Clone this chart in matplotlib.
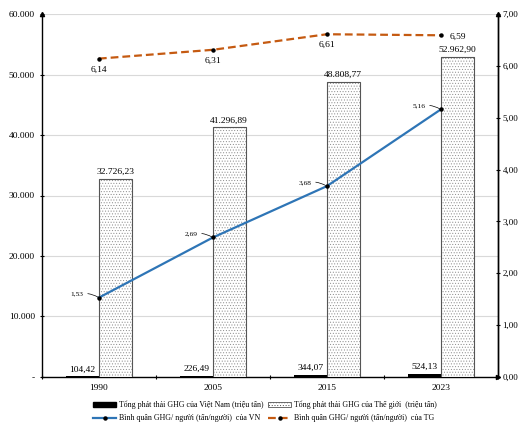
import matplotlib
matplotlib.use("Agg")
import matplotlib.pyplot as plt
import numpy as np
from matplotlib.patches import Patch
from matplotlib.lines import Line2D

plt.rcParams["font.family"] = ["Liberation Serif", "DejaVu Serif"]
plt.rcParams["hatch.linewidth"] = 0.4
plt.rcParams["hatch.color"] = "#8c8c8c"

years = ["1990", "2005", "2015", "2023"]
vn_total = [104.42, 226.49, 344.07, 524.13]
world_total = [32726.23, 41296.89, 48808.77, 52962.90]
vn_per_capita = [1.53, 2.69, 3.68, 5.16]
world_per_capita = [6.14, 6.31, 6.61, 6.59]


def fmt_vn(v, dec=2):
    s = f"{v:,.{dec}f}"
    return s.replace(",", "X").replace(".", ",").replace("X", ".")


fig = plt.figure(figsize=(5.24, 4.25), dpi=100)
ax = fig.add_axes([0.080, 0.113, 0.870, 0.854])
ax2 = ax.twinx()

x = np.arange(len(years))
w = 0.287

ax.bar(x - w / 2, vn_total, w, color="black", zorder=3)
ax.bar(x + w / 2, world_total, w, facecolor="white", edgecolor="#8c8c8c",
       hatch="......", linewidth=0.6, zorder=3)
ax.bar(x + w / 2, world_total, w, facecolor="none", edgecolor="#555555",
       linewidth=0.8, zorder=4)

for i in range(len(years)):
    ax.annotate(fmt_vn(vn_total[i]), (x[i] - w / 2, vn_total[i]), xytext=(0, 2),
                textcoords="offset points", ha="center", va="bottom", fontsize=6.8)
    ax.annotate(fmt_vn(world_total[i]), (x[i] + w / 2, world_total[i]), xytext=(0, 2),
                textcoords="offset points", ha="center", va="bottom", fontsize=6.8)

ax.set_xlim(-0.5, len(years) - 0.5)
ax.set_ylim(0, 60000)
ax.set_yticks(np.arange(0, 60001, 10000))
ax.set_yticklabels(["-"] + [fmt_vn(v, 0) for v in range(10000, 60001, 10000)])
ax.yaxis.grid(True, color="#d9d9d9", linewidth=0.8, zorder=0)
ax.set_axisbelow(True)
ax.set_xticks(x)
ax.set_xticklabels(years)
ax.set_xticks(np.arange(-0.5, len(years), 1), minor=True)
ax.tick_params(axis="x", which="major", length=0, labelsize=6.8, pad=5)
ax.tick_params(axis="x", which="minor", length=3, direction="inout", width=0.8)
ax.tick_params(axis="y", length=3, direction="inout", labelsize=6.8, width=0.8)

# lines on secondary axis
ax2.plot(x, vn_per_capita, color="#2e75b6", linewidth=1.6, marker="o",
         markersize=2.2, markerfacecolor="black", markeredgecolor="black", zorder=5)
ax2.plot(x, world_per_capita, color="#c55a11", linewidth=1.6, linestyle=(0, (3.5, 1.8)),
         marker="o", markersize=2.2, markerfacecolor="black", markeredgecolor="black", zorder=5)
ax2.set_ylim(0, 7)
ax2.set_yticks(np.arange(0, 7.01, 1))
ax2.set_yticklabels([f"{v:.2f}".replace(".", ",") for v in range(8)])
ax2.tick_params(axis="y", length=3, direction="inout", labelsize=6.5, width=0.8, pad=2)

for i in range(len(years)):
    ax2.annotate(fmt_vn(vn_per_capita[i]), (x[i], vn_per_capita[i]), xytext=(-11, 2.5),
                 textcoords="offset points", ha="right", va="center", fontsize=5.3,
                 arrowprops=dict(arrowstyle="-", color="black", linewidth=0.5,
                                 shrinkA=1, shrinkB=1, connectionstyle="arc3,rad=-0.2"))
for i in range(3):
    ax2.annotate(fmt_vn(world_per_capita[i]), (x[i], world_per_capita[i]), xytext=(0, -5),
                 textcoords="offset points", ha="center", va="top", fontsize=6.8)
ax2.annotate(fmt_vn(world_per_capita[3]), (x[3], world_per_capita[3]), xytext=(6, -1),
             textcoords="offset points", ha="left", va="center", fontsize=6.8)

for a in (ax, ax2):
    a.spines["top"].set_visible(False)
    for s in ("left", "right", "bottom"):
        a.spines[s].set_linewidth(1.0)
ax2.spines["left"].set_visible(False)
ax2.spines["bottom"].set_visible(False)

# axis arrows
ax.plot(0, 1, marker="^", color="black", markersize=3, transform=ax.transAxes, clip_on=False, zorder=10)
ax.plot(1, 1, marker="^", color="black", markersize=3, transform=ax.transAxes, clip_on=False, zorder=10)
ax.plot(1, 0, marker=">", color="black", markersize=3, transform=ax.transAxes, clip_on=False, zorder=10)

handles = [
    Patch(facecolor="black", edgecolor="black"),
    Line2D([0], [0], color="#2e75b6", linewidth=1.6, marker="o", markersize=2.2,
           markerfacecolor="black", markeredgecolor="black"),
    Patch(facecolor="white", edgecolor="#555555", hatch="......", linewidth=0.6),
    Line2D([0], [0], color="#c55a11", linewidth=1.6, linestyle=(0, (3.5, 1.8)), marker="o",
           markersize=2.2, markerfacecolor="black", markeredgecolor="black"),
]
labels = [
    "Tổng phát thải GHG của Việt Nam (triệu tấn)",
    "Bình quân GHG/ người (tấn/người)  của VN",
    "Tổng phát thải GHG của Thế giới  (triệu tấn)",
    "Bình quân GHG/ người (tấn/người)  của TG",
]
fig.legend(handles, labels, loc="center", bbox_to_anchor=(0.506, 0.032), ncol=2,
           frameon=False, fontsize=5.7, handlelength=2.9, handleheight=0.5,
           handletextpad=0.35, columnspacing=0.6, labelspacing=0.6)

fig.savefig("out.png", dpi=100)
